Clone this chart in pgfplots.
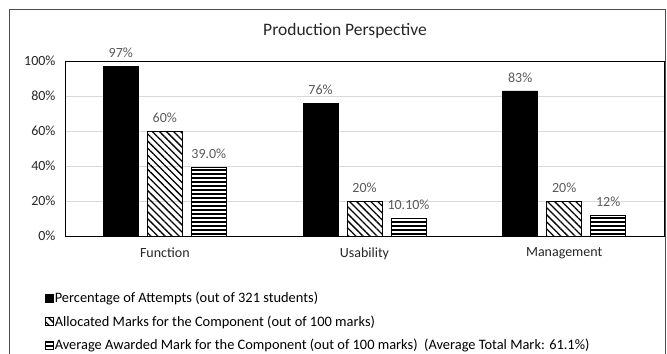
\documentclass[border=0pt]{standalone}
\usepackage{pgfplots}
\pgfplotsset{compat=1.18}
\usepackage{fontspec}
\setmainfont{Carlito}
\usetikzlibrary{patterns.meta}
\definecolor{lblgray}{HTML}{595959}
\definecolor{tickgray}{HTML}{262626}
\begin{document}
\begin{tikzpicture}
\useasboundingbox (0,0) rectangle (667bp,-354bp);
\draw[black!70, line width=0.8bp] (9bp,-360bp) -- (9bp,-9bp) -- (665.5bp,-9bp) -- (665.5bp,-360bp);
\node[font=\fontsize{17.5bp}{20bp}\selectfont, text=black!85] at (345bp,-31bp) {Production Perspective};
\begin{axis}[
  at={(65bp,-236bp)}, anchor=south west,
  scale only axis, width=599bp, height=175bp,
  ybar=9bp, bar width=35bp,
  xmin=-0.5, xmax=2.5, ymin=0, ymax=100,
  xtick={0,1,2}, xticklabels={Function,Usability,Management},
  ytick={0,20,40,60,80,100}, yticklabels={0\%,20\%,40\%,60\%,80\%,100\%},
  major tick length=0pt,
  ymajorgrids, grid style={gray!30, line width=0.6bp},
  axis line style={black, line width=0.8bp},
  tick label style={font=\fontsize{14bp}{16bp}\selectfont, text=tickgray},
  xticklabel style={yshift=-8bp},
  yticklabel style={xshift=-6bp},
  point meta=explicit symbolic,
  nodes near coords={\pgfplotspointmeta},
  nodes near coords style={font=\fontsize{14bp}{16bp}\selectfont, text=lblgray, yshift=5bp},
  legend style={at={(0,0)}, anchor=north west, xshift=-20bp, yshift=-55bp, draw=none, fill=none,
    font=\fontsize{14.4bp}{16bp}\selectfont, row sep=9.5bp, inner sep=0bp,
    nodes={inner sep=1bp, text=black}},
  legend cell align=left,
  legend image code/.code={\draw[#1, line width=0.6bp] (0bp,-4bp) rectangle (8bp,4bp);},
  clip=false,
]
\addplot[draw=black, fill=black] coordinates {(0,97) [97\%] (1,76) [76\%] (2,83) [83\%]};
\addplot[draw=black, line width=0.8bp, pattern={Lines[angle=-45,distance=5bp,line width=1.3bp]}] coordinates {(0,60) [60\%] (1,20) [20\%] (2,20) [20\%]};
\addplot[draw=black, line width=0.8bp, pattern={Lines[angle=0,distance=4bp,line width=1.2bp]}] coordinates {(0,39) [39.0\%] (1,10.1) [10.10\%] (2,12) [12\%]};
\legend{Percentage of Attempts (out of 321 students),
Allocated Marks for the Component (out of 100 marks),
Average Awarded Mark for the Component (out of 100 marks)\ \ (Average Total Mark: 61.1\%)}
\end{axis}
\end{tikzpicture}
\end{document}
